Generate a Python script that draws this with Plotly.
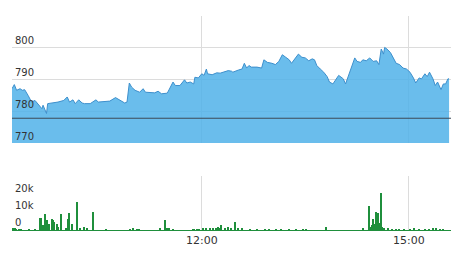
import plotly.graph_objects as go

DAY = "2024-01-02 "

price_times = ["09:15","09:17","09:19","09:22","09:24","09:26","09:29","09:32","09:35","09:38","09:41","09:42","09:45","09:46","09:50","09:55","10:00","10:03","10:05","10:08","10:10","10:13","10:16","10:18","10:23","10:28","10:30","10:34","10:40","10:45","10:49","10:53","10:55","10:57","10:59","11:02","11:06","11:09","11:11","11:15","11:19","11:22","11:25","11:30","11:32","11:35","11:37","11:41","11:45","11:47","11:50","11:53","11:54","11:57","12:00","12:02","12:04","12:05","12:09","12:13","12:16","12:20","12:23","12:26","12:27","12:32","12:35","12:37","12:39","12:41","12:43","12:48","12:52","12:54","12:57","13:01","13:04","13:07","13:10","13:13","13:16","13:18","13:21","13:24","13:27","13:30","13:33","13:36","13:38","13:40","13:43","13:46","13:49","13:51","13:54","13:57","13:59","14:02","14:03","14:05","14:07","14:10","14:13","14:15","14:18","14:20","14:23","14:26","14:29","14:32","14:34","14:36","14:38","14:39","14:41","14:44","14:47","14:49","14:52","14:55","14:58","15:01","15:04","15:06","15:09","15:11","15:14","15:16","15:18","15:21","15:23","15:25","15:28","15:30","15:32","15:34","15:35"]
prices = [787.1,788.4,786.6,787.1,786.6,786.8,785.0,782.9,783.4,781.9,780.8,781.9,779.3,782.4,782.6,782.9,783.4,784.5,782.9,783.6,782.4,783.6,782.6,782.4,782.4,783.6,782.9,783.1,783.2,784.3,783.4,782.6,782.9,788.9,787.6,786.6,786.0,787.1,786.0,785.8,785.8,786.3,785.5,785.7,787.1,789.2,788.1,788.1,789.9,788.9,789.2,788.6,790.7,790.5,791.8,791.3,793.3,791.8,791.5,792.1,792.0,792.5,792.8,792.6,792.3,793.0,793.3,795.1,793.6,794.4,793.9,793.9,793.6,796.2,795.4,795.1,794.7,795.7,797.8,797.0,796.2,795.1,796.5,798.0,797.0,796.8,795.9,796.5,796.2,794.4,793.3,792.3,790.9,789.2,788.6,790.2,791.3,790.5,790.2,788.6,790.7,793.9,796.8,795.7,795.4,796.2,795.9,796.8,795.7,795.9,794.7,799.6,798.0,800.1,799.6,798.5,796.5,795.1,794.7,793.6,793.3,792.3,790.5,788.9,790.5,790.2,791.8,790.9,792.3,790.2,788.1,789.2,786.8,788.6,788.6,790.2,790.2]

vol_times = ["09:15","09:16","09:18","09:19","09:21","09:23","09:30","09:35","09:40","09:42","09:44","09:46","09:47","09:50","09:51","09:52","09:54","09:55","09:58","10:02","10:04","10:05","10:07","10:12","10:14","10:18","10:20","10:26","10:37","10:58","11:00","11:04","11:06","11:24","11:28","11:30","11:32","11:35","11:53","11:56","11:58","12:01","12:04","12:07","12:10","12:13","12:14","12:16","12:17","12:20","12:23","12:26","12:29","12:32","12:35","12:42","12:48","12:55","12:59","13:05","13:09","13:16","13:22","13:28","13:31","13:48","14:20","14:26","14:27","14:28","14:29","14:30","14:32","14:33","14:35","14:36","14:37","14:39","14:42","14:46","14:49","14:52","14:56","15:01","15:05","15:09","15:14","15:18","15:21","15:24","15:27","15:30"]
volumes = [1300,1000,800,500,400,300,400,500,6700,2600,9000,5700,3400,6100,5700,4600,3400,1700,9100,1100,6300,9500,3400,15800,1000,2000,900,10100,400,500,600,400,300,1100,5700,600,600,500,400,500,400,600,900,800,1000,900,2000,1100,2600,1100,2000,1100,4400,800,800,400,400,500,400,400,500,400,500,400,300,1900,600,13900,2000,2900,6100,3400,10500,9900,4300,21500,1900,900,700,500,500,400,500,400,900,400,500,400,600,900,500,400]

prev_close = 777.8
price_ticks = [770, 780, 790, 800]
vol_ticks = [0, 10000, 20000]
vol_tick_text = ["0", "10k", "20k"]
x_ticks = ["12:00", "15:00"]
x_start, x_end = "09:15:00", "15:36:40"

TEXT = "#333333"
GRID = "#dcdcdc"
GREEN = "#1f8f3c"

fig = go.Figure()
fig.add_trace(go.Scatter(
    x=[DAY + t for t in price_times], y=prices, mode="lines",
    line=dict(color="#3d8fcc", width=1), fill="tozeroy",
    fillcolor="rgba(80,178,233,0.85)", xaxis="x", yaxis="y",
    hoverinfo="skip"))
fig.add_trace(go.Bar(
    x=[DAY + t for t in vol_times], y=volumes, width=80000,
    marker=dict(color=GREEN, line=dict(width=0)),
    xaxis="x2", yaxis="y2", hoverinfo="skip"))

fig.add_shape(type="line", xref="paper", yref="y", x0=0, x1=1,
              y0=prev_close, y1=prev_close,
              line=dict(color="#3c4856", width=1), layer="above")

xcommon = dict(type="date", range=[DAY + x_start, DAY + x_end],
               tickvals=[DAY + t for t in x_ticks], ticktext=x_ticks,
               showgrid=True, gridcolor=GRID, gridwidth=1,
               zeroline=False, ticks="", automargin=False)

fig.update_layout(
    width=465, height=253,
    margin=dict(l=12, r=14, t=16, b=23, autoexpand=False),
    paper_bgcolor="white", plot_bgcolor="white",
    showlegend=False,
    font=dict(family="DejaVu Sans", size=10, color=TEXT),
    xaxis=dict(**xcommon, anchor="y", showticklabels=False, showline=False),
    xaxis2=dict(**xcommon, anchor="y2", showticklabels=True,
                tickfont=dict(size=11, color=TEXT),
                showline=True, linecolor=GREEN, linewidth=1),
    yaxis=dict(domain=[0.4065, 1], range=[770, 810], tickvals=price_ticks,
               ticklabelposition="inside top", showgrid=True, gridcolor=GRID,
               zeroline=False, showline=False, ticks="", automargin=False,
               tickfont=dict(size=10, color=TEXT)),
    yaxis2=dict(domain=[0, 0.2523], range=[0, 31000], tickvals=vol_ticks,
                ticktext=vol_tick_text, ticklabelposition="inside top",
                showgrid=False, zeroline=False, showline=False, ticks="",
                automargin=False, tickfont=dict(size=10, color=TEXT)),
    bargap=0,
)

fig.write_html("out.html")
